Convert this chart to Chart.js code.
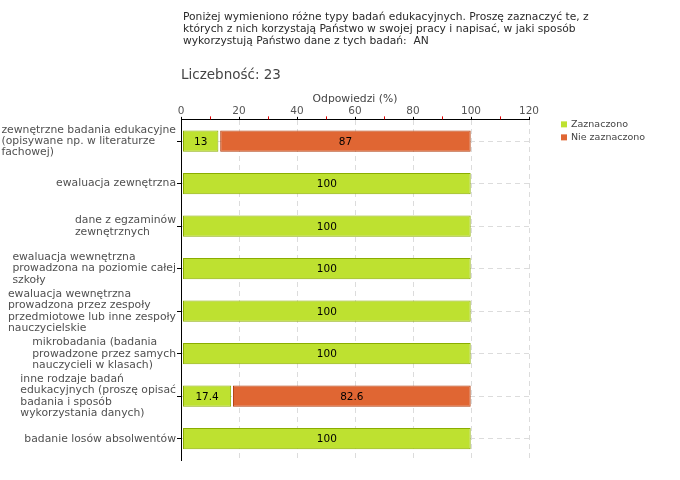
<!DOCTYPE html>
<html>
<head>
<meta charset="utf-8">
<script src="https://cdn.jsdelivr.net/npm/chart.js@4"></script>
<style>
  html, body { margin: 0; padding: 0; background: #fff; }
  #wrap { width: 680px; height: 480px; }
</style>
</head>
<body>
<div id="wrap"><canvas id="chart" width="680" height="480"></canvas></div>
<script>
const titleLines = [
  'Poniżej wymieniono różne typy badań edukacyjnych. Proszę zaznaczyć te, z',
  'których z nich korzystają Państwo w swojej pracy i napisać, w jaki sposób',
  'wykorzystują Państwo dane z tych badań:  AN'
];
const countText = 'Liczebność: 23';

const categories = [
  ['zewnętrzne badania edukacyjne', '(opisywane np. w literaturze', 'fachowej)'],
  ['ewaluacja zewnętrzna'],
  ['dane z egzaminów', 'zewnętrznych'],
  ['ewaluacja wewnętrzna', 'prowadzona na poziomie całej', 'szkoły'],
  ['ewaluacja wewnętrzna', 'prowadzona przez zespoły', 'przedmiotowe lub inne zespoły', 'nauczycielskie'],
  ['mikrobadania (badania', 'prowadzone przez samych', 'nauczycieli w klasach)'],
  ['inne rodzaje badań', 'edukacyjnych (proszę opisać', 'badania i sposób', 'wykorzystania danych)'],
  ['badanie losów absolwentów']
];

const zaznaczono = [13, 100, 100, 100, 100, 100, 17.4, 100];
const nieZaznaczono = [87, 0, 0, 0, 0, 0, 82.6, 0];

const xTicksMajor = [0, 20, 40, 60, 80, 100, 120];
const xTicksMinor = [10, 30, 50, 70, 90, 110];

const FONT = 'DejaVu Sans, Verdana, sans-serif';

// small inset so stacked segments have a white gap between them
const barGap = {
  id: 'barGap',
  afterDatasetsUpdate(chart) {
    chart.data.datasets.forEach((ds, i) => {
      chart.getDatasetMeta(i).data.forEach((el, j) => {
        if (!ds.data[j]) { el.x = el.base; return; }
        el.base += 1.5;
        el.x -= 0.3;
      });
    });
  }
};

// numbers in the middle of each segment
const valueLabels = {
  id: 'valueLabels',
  afterDatasetsDraw(chart) {
    const ctx = chart.ctx;
    ctx.save();
    ctx.font = '10.5px ' + FONT;
    ctx.fillStyle = '#000';
    ctx.textAlign = 'center';
    ctx.textBaseline = 'middle';
    chart.data.datasets.forEach((ds, i) => {
      chart.getDatasetMeta(i).data.forEach((el, j) => {
        const v = ds.data[j];
        if (!v) return;
        ctx.fillText(String(v), (el.x + el.base) / 2, el.y + 1);
      });
    });
    ctx.restore();
  }
};

// heading text, red minor ticks, left-aligned category labels, legend
const extras = {
  id: 'extras',
  afterDraw(chart) {
    const ctx = chart.ctx;
    const xs = chart.scales.x;
    const ys = chart.scales.y;
    const area = chart.chartArea;
    ctx.save();

    ctx.textAlign = 'left';
    ctx.textBaseline = 'middle';
    ctx.font = '10.7px ' + FONT;
    ctx.fillStyle = '#2a2a2a';
    titleLines.forEach((s, k) => ctx.fillText(s, area.left + 2, 17 + k * 12));
    ctx.font = '13.5px ' + FONT;
    ctx.fillStyle = '#444';
    ctx.fillText(countText, area.left, 75);

    ctx.strokeStyle = '#e00000';
    ctx.lineWidth = 1;
    xTicksMinor.forEach(v => {
      const px = Math.round(xs.getPixelForValue(v)) + 0.5;
      ctx.beginPath();
      ctx.moveTo(px, xs.bottom - 3.5);
      ctx.lineTo(px, xs.bottom - 0.5);
      ctx.stroke();
    });

    ctx.font = '10.8px ' + FONT;
    ctx.fillStyle = '#505050';
    const lh = 11.4;
    const rightEdge = ys.right - 5;
    categories.forEach((lines, i) => {
      const cy = ys.getPixelForTick(i);
      const w = Math.max(...lines.map(s => ctx.measureText(s).width));
      const x0 = rightEdge - w;
      const y0 = cy - (lines.length - 1) * lh / 2;
      lines.forEach((s, k) => ctx.fillText(s, x0, y0 + k * lh));
    });

    ctx.font = '9.5px ' + FONT;
    const lx = area.right + 32;
    chart.data.datasets.forEach((ds, i) => {
      const ly = area.top + 4.5 + i * 13;
      ctx.fillStyle = ds.backgroundColor;
      ctx.fillRect(lx, ly - 3, 6, 6);
      ctx.fillStyle = '#444';
      ctx.fillText(ds.label, lx + 10, ly + 0.5);
    });
    ctx.restore();
  }
};

Chart.defaults.font.family = FONT;
Chart.defaults.color = '#555';

new Chart(document.getElementById('chart'), {
  type: 'bar',
  data: {
    labels: categories,
    datasets: [
      {
        label: 'Zaznaczono',
        data: zaznaczono,
        backgroundColor: '#bee130',
        borderColor: '#8aad00',
        borderWidth: 1,
        borderSkipped: false,
        barPercentage: 0.5,
        categoryPercentage: 1
      },
      {
        label: 'Nie zaznaczono',
        data: nieZaznaczono,
        backgroundColor: '#e06633',
        borderColor: '#b03c0c',
        borderWidth: 1,
        borderSkipped: false,
        barPercentage: 0.5,
        categoryPercentage: 1
      }
    ]
  },
  options: {
    indexAxis: 'y',
    responsive: false,
    animation: false,
    layout: { padding: { left: 0, right: 151, top: 91.8, bottom: 20 } },
    plugins: {
      legend: { display: false },
      tooltip: { enabled: false }
    },
    scales: {
      x: {
        position: 'top',
        stacked: true,
        min: 0,
        max: 120,
        afterBuildTicks(scale) {
          scale.ticks = xTicksMajor.map(v => ({ value: v }));
        },
        ticks: {
          padding: 0,
          color: '#555',
          font: { size: 10.5, lineHeight: 1.05 }
        },
        title: {
          display: true,
          text: 'Odpowiedzi (%)',
          color: '#444',
          font: { size: 10.8, lineHeight: 1.3 },
          padding: { top: 0, bottom: 0 }
        },
        grid: {
          color: ctx => (ctx.tick && ctx.tick.value === 0 ? 'rgba(0,0,0,0)' : '#dcdcdc'),
          tickColor: '#000',
          tickLength: 3
        },
        border: { display: true, color: '#000', width: 1, dash: [5, 4] }
      },
      y: {
        stacked: true,
        afterFit(scale) { scale.width = 181; },
        ticks: { display: false },
        grid: {
          offset: false,
          color: '#dcdcdc',
          tickColor: '#000',
          tickLength: 4
        },
        border: { display: true, color: '#000', width: 1, dash: [5, 4] }
      }
    }
  },
  plugins: [barGap, valueLabels, extras]
});
</script>
</body>
</html>
